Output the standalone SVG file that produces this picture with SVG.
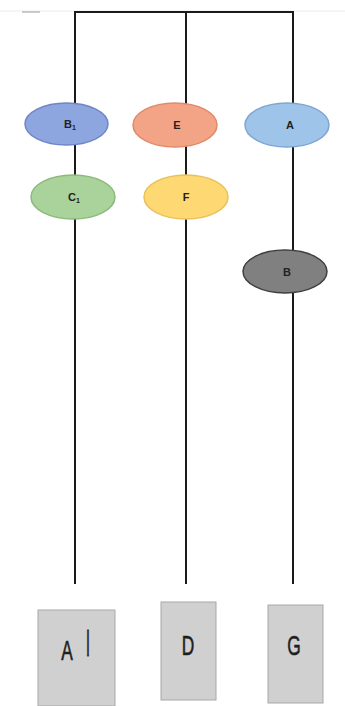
<svg xmlns="http://www.w3.org/2000/svg" width="345" height="706" viewBox="0 0 345 706">
<style>
.ln{stroke:#1a1a1a;stroke-width:2;fill:none}
.el{stroke-width:1.5}
.lb{font-family:"Liberation Sans",Arial,sans-serif;font-weight:bold;font-size:11px;fill:#222;text-anchor:middle}
.bx{fill:#d0d0d0;stroke:#a8a8a8;stroke-width:1}
.bl{font-family:"Liberation Sans",Arial,sans-serif;font-size:28px;fill:#1e1e1e;stroke:#1e1e1e;stroke-width:0.6;text-anchor:middle}
</style>
<rect width="345" height="706" fill="#fff"/>
<g id="connectors">
<line x1="0" y1="11" x2="345" y2="11" stroke="#ececec" stroke-width="1"/>
<line x1="22" y1="12" x2="40" y2="12" stroke="#999" stroke-width="1"/>
<line class="ln" x1="74" y1="12" x2="294" y2="12" stroke-width="3"/>
<line class="ln" x1="75" y1="12" x2="75" y2="584"/>
<line class="ln" x1="186" y1="12" x2="186" y2="584"/>
<line class="ln" x1="293" y1="12" x2="293" y2="584"/>
</g>
<g id="B1"><ellipse class="el" cx="66.5" cy="124" rx="41.5" ry="21" fill="#8ea6e0" stroke="#6f86c4"/><text class="lb" x="70" y="128">B<tspan font-size="7" dy="2">1</tspan></text></g>
<g id="E"><ellipse class="el" cx="175" cy="125" rx="42" ry="22" fill="#f4a486" stroke="#e08a6a"/><text class="lb" x="177" y="129">E</text></g>
<g id="A"><ellipse class="el" cx="287" cy="125" rx="42" ry="22" fill="#9fc4ea" stroke="#7fa6d2"/><text class="lb" x="290" y="129">A</text></g>
<g id="C1"><ellipse class="el" cx="73" cy="197" rx="42" ry="22" fill="#a9d39a" stroke="#8cb97c"/><text class="lb" x="74" y="201">C<tspan font-size="7" dy="2">1</tspan></text></g>
<g id="F"><ellipse class="el" cx="186" cy="197" rx="42" ry="22" fill="#fed872" stroke="#e9c15a"/><text class="lb" x="186" y="201">F</text></g>
<g id="B"><ellipse class="el" cx="285" cy="271.5" rx="42" ry="21.5" fill="#808080" stroke="#404040"/><text class="lb" x="287" y="276">B</text></g>
<g id="A1"><rect class="bx" x="38" y="610" width="77" height="96"/><text class="bl" transform="translate(67 660) scale(0.62 1)">A</text><text class="bl" font-size="9" stroke-width="0" fill="#666" transform="translate(88 656) scale(0.5 1.3)">I</text></g>
<g id="D"><rect class="bx" x="161" y="602" width="55" height="98"/><text class="bl" transform="translate(188 655) scale(0.62 1)">D</text></g>
<g id="G"><rect class="bx" x="268" y="605" width="55" height="98"/><text class="bl" transform="translate(294 655) scale(0.62 1)">G</text></g>
</svg>
